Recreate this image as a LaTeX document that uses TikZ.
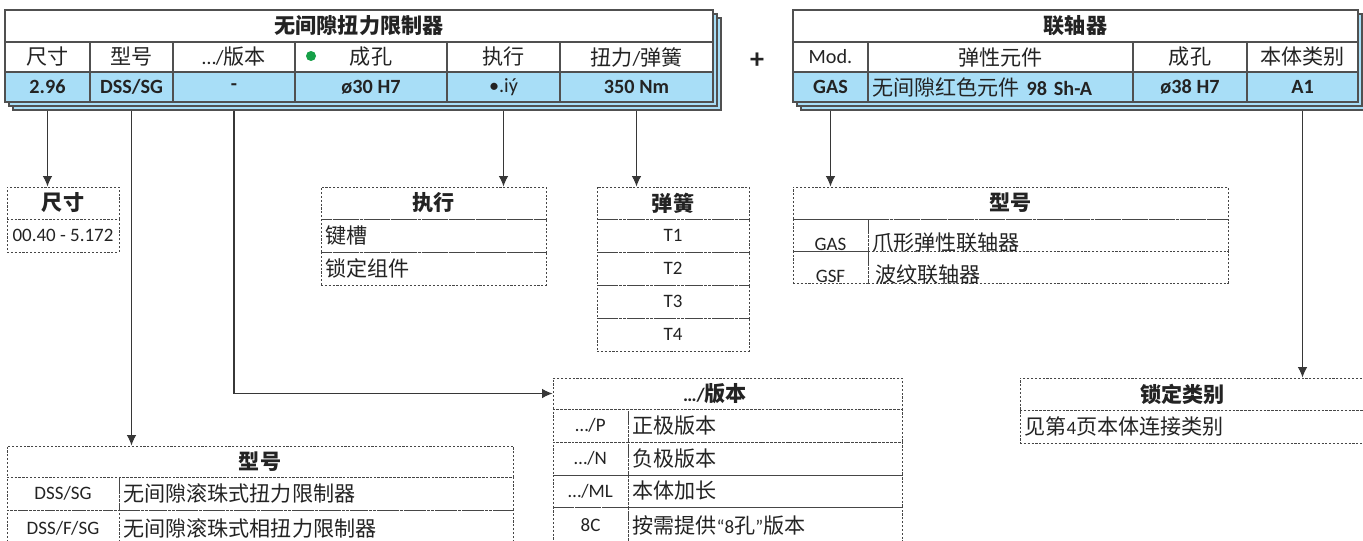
\documentclass[tikz,border=0pt]{standalone}
\usepackage{fontspec}
\setmainfont{Carlito}
\newfontfamily\cjk{Noto Sans CJK SC}
\usetikzlibrary{arrows.meta}
\newcommand\zh[1]{{\cjk\fontsize{12}{14}\selectfont #1}}

\definecolor{tblline}{RGB}{80,80,80}
\definecolor{datablue}{RGB}{168,222,247}
\definecolor{txtgray}{RGB}{35,35,35}
\definecolor{connline}{RGB}{55,55,55}
\definecolor{boxline}{RGB}{70,70,70}
\definecolor{dotgreen}{RGB}{22,160,72}

\tikzset{
  cw/.style={minimum width=#1*0.02cm},
  ch/.style={minimum height=#1*0.02cm},
  cell/.style={draw=tblline, line width=0.6pt, inner sep=0pt, text=txtgray, font=\fontsize{11.5}{13}\selectfont},
  hcell/.style={cell, fill=white},
  tcell/.style={hcell, font=\fontsize{11.5}{13}\selectfont\bfseries},
  dcell/.style={cell, fill=datablue, font=\fontsize{11.5}{13}\selectfont\bfseries},
  shadow/.style={draw=tblline, line width=0.6pt, fill=datablue},
  dbox/.style={draw=boxline, line width=0.5pt, dash pattern=on 1.2pt off 1pt, inner sep=0pt, text=txtgray, font=\fontsize{10.8}{12}\selectfont},
  dtitle/.style={dbox, font=\fontsize{10.8}{12}\selectfont\bfseries},
  lalign/.style={inner xsep=2.5pt, text width=#1*0.02cm-5pt, align=left},
  lowtxt/.style={inner ysep=0pt, text height=0.64cm, text depth=0pt},
  conn/.style={draw=connline, line width=0.7pt, -{Latex[length=6pt,width=5.5pt]}},
}

\begin{document}
\begin{tikzpicture}[x=0.02cm, y=-0.02cm]
  \useasboundingbox (0,0) rectangle (1363,541);
  \clip (0,0) rectangle (1363,541);

  % Limiter table with stacked shadow
  \draw[shadow] (13,18) rectangle (721,110);
  \draw[shadow] (9,14) rectangle (717,106);
  \node[tcell, cw=708, ch=32] (t1) at (359,26) {\zh{无间隙扭力限制器}};
  \node[hcell, cw=85, ch=30] (h1) at (47.5,57) {\zh{尺寸}};
  \node[hcell, cw=83, ch=30] (h2) at (131.5,57) {\zh{型号}};
  \node[hcell, cw=122, ch=30] (h3) at (234,57) {…/\zh{版本}};
  \node[hcell, cw=152, ch=30] (h4) at (371,57) {\zh{成孔}};
  \node[hcell, cw=113, ch=30] (h5) at (503.5,57) {\zh{执行}};
  \node[hcell, cw=153, ch=30] (h6) at (636.5,57) {\zh{扭力}/\zh{弹簧}};
  \fill[dotgreen] (311,56) circle (0.1cm);
  \node[dcell, cw=85, ch=30] (d1) at (47.5,87) {2.96};
  \node[dcell, cw=83, ch=30] (d2) at (131.5,87) {DSS/SG};
  \node[dcell, cw=122, ch=30] (d3) at (234,87) {-};
  \node[dcell, cw=152, ch=30] (d4) at (371,87) {ø30 H7};
  \node[dcell, cw=113, ch=30, font=\fontsize{11.5}{13}\selectfont] (d5) at (503.5,87) {•.iý};
  \node[dcell, cw=153, ch=30] (d6) at (636.5,87) {350 Nm};

  \node[font=\fontsize{16}{16}\selectfont\bfseries, text=txtgray] (plus) at (757,61) {+};

  % Coupling table with stacked shadow
  \draw[shadow] (801,18) rectangle (1366,110);
  \draw[shadow] (797,14) rectangle (1362,106);
  \node[tcell, cw=565, ch=32] (t2) at (1075.5,26) {\zh{联轴器}};
  \node[hcell, cw=75, ch=30] (k1) at (830.5,57) {Mod.};
  \node[hcell, cw=265, ch=30] (k2) at (1000.5,57) {\zh{弹性元件}};
  \node[hcell, cw=114, ch=30] (k3) at (1190,57) {\zh{成孔}};
  \node[hcell, cw=111, ch=30] (k4) at (1302.5,57) {\zh{本体类别}};
  \node[dcell, cw=75, ch=30] (e1) at (830.5,87) {GAS};
  \node[dcell, cw=265, ch=30, lalign=265] (e2) at (1000.5,87) {{\mdseries\zh{无间隙红色元件}} 98 Sh-A};
  \node[dcell, cw=114, ch=30] (e3) at (1190,87) {ø38 H7};
  \node[dcell, cw=111, ch=30] (e4) at (1302.5,87) {A1};

  % Size
  \node[dtitle, cw=112, ch=32] (szT) at (63,203) {\zh{尺寸}};
  \node[dbox, cw=112, ch=33] (sz1) at (63,235.5) {00.40 - 5.172};

  % Execution
  \node[dtitle, cw=225, ch=32] (zxT) at (433.5,203) {\zh{执行}};
  \node[dbox, cw=225, ch=33, lalign=225] (zx1) at (433.5,235.5) {\zh{键槽}};
  \node[dbox, cw=225, ch=33, lalign=225] (zx2) at (433.5,268.5) {\zh{锁定组件}};

  % Springs
  \node[dtitle, cw=152, ch=32] (thT) at (673,203) {\zh{弹簧}};
  \foreach \i in {1,...,4}
    \node[dbox, cw=152, ch=33] (th\i) at (673,202.5+33*\i) {T\i};

  % Coupling model
  \node[dtitle, cw=435, ch=32] (gtT) at (1010.5,203) {\zh{型号}};
  \node[dbox, lowtxt, cw=75] (gt1a) at (830.5,235) {GAS};
  \node[dbox, lowtxt, cw=360, lalign=360] (gt1b) at (1048,235) {\zh{爪形弹性联轴器}};
  \node[dbox, lowtxt, cw=75] (gt2a) at (830.5,267) {GSF};
  \node[dbox, lowtxt, cw=360, lalign=360] (gt2b) at (1048,267) {\,\zh{波纹联轴器}};

  % Locking type
  \node[dtitle, cw=350, ch=32] (lkT) at (1195,394) {\zh{锁定类别}\hspace*{0.5cm}};
  \node[dbox, cw=350, ch=33, lalign=350] (lk1) at (1195,426.5) {\zh{见第}4\zh{页本体连接类别}};

  % Versions
  \node[dtitle, cw=349, ch=31] (verT) at (727.5,393.5) {…/\zh{版本}\hspace*{0.5cm}};
  \node[dbox, cw=75, ch=33] (v1a) at (590.5,425.5) {…/P};
  \node[dbox, cw=274, ch=33, lalign=274] (v1b) at (765,425.5) {\zh{正极版本}};
  \node[dbox, cw=75, ch=33] (v2a) at (590.5,458.5) {…/N};
  \node[dbox, cw=274, ch=33, lalign=274] (v2b) at (765,458.5) {\zh{负极版本}};
  \node[dbox, cw=75, ch=32] (v3a) at (590.5,491) {…/ML};
  \node[dbox, cw=274, ch=32, lalign=274] (v3b) at (765,491) {\zh{本体加长}};
  \node[dbox, cw=75, ch=36] (v4a) at (590.5,525) {8C};
  \node[dbox, cw=274, ch=36, lalign=274] (v4b) at (765,525) {\zh{按需提供}“8\zh{孔}”\zh{版本}};

  % Limiter model
  \node[dtitle, cw=506, ch=31] (typT) at (260,461.5) {\zh{型号}};
  \node[dbox, cw=112, ch=33] (ty1a) at (63,493.5) {DSS/SG};
  \node[dbox, cw=394, ch=33, lalign=394] (ty1b) at (316,493.5) {\zh{无间隙滚珠式扭力限制器}};
  \node[dbox, cw=112, ch=36] (ty2a) at (63,528) {DSS/F/SG};
  \node[dbox, cw=394, ch=36, lalign=394] (ty2b) at (316,528) {\zh{无间隙滚珠式相扭力限制器}};

  % Connectors
  \draw[conn] ([yshift=-0.16cm]d1.south) -- (d1.south |- szT.north);
  \draw[conn] ([yshift=-0.16cm]d2.south) -- (d2.south |- typT.north);
  \draw[conn] ([yshift=-0.16cm]d3.south) |- (verT.west);
  \draw[conn] ([yshift=-0.16cm]d5.south) -- (d5.south |- zxT.north);
  \draw[conn] ([yshift=-0.16cm]d6.south) -- (d6.south |- thT.north);
  \draw[conn] ([yshift=-0.16cm]e1.south) -- (e1.south |- gtT.north);
  \draw[conn] ([yshift=-0.16cm]e4.south) -- (e4.south |- lkT.north);
\end{tikzpicture}
\end{document}
